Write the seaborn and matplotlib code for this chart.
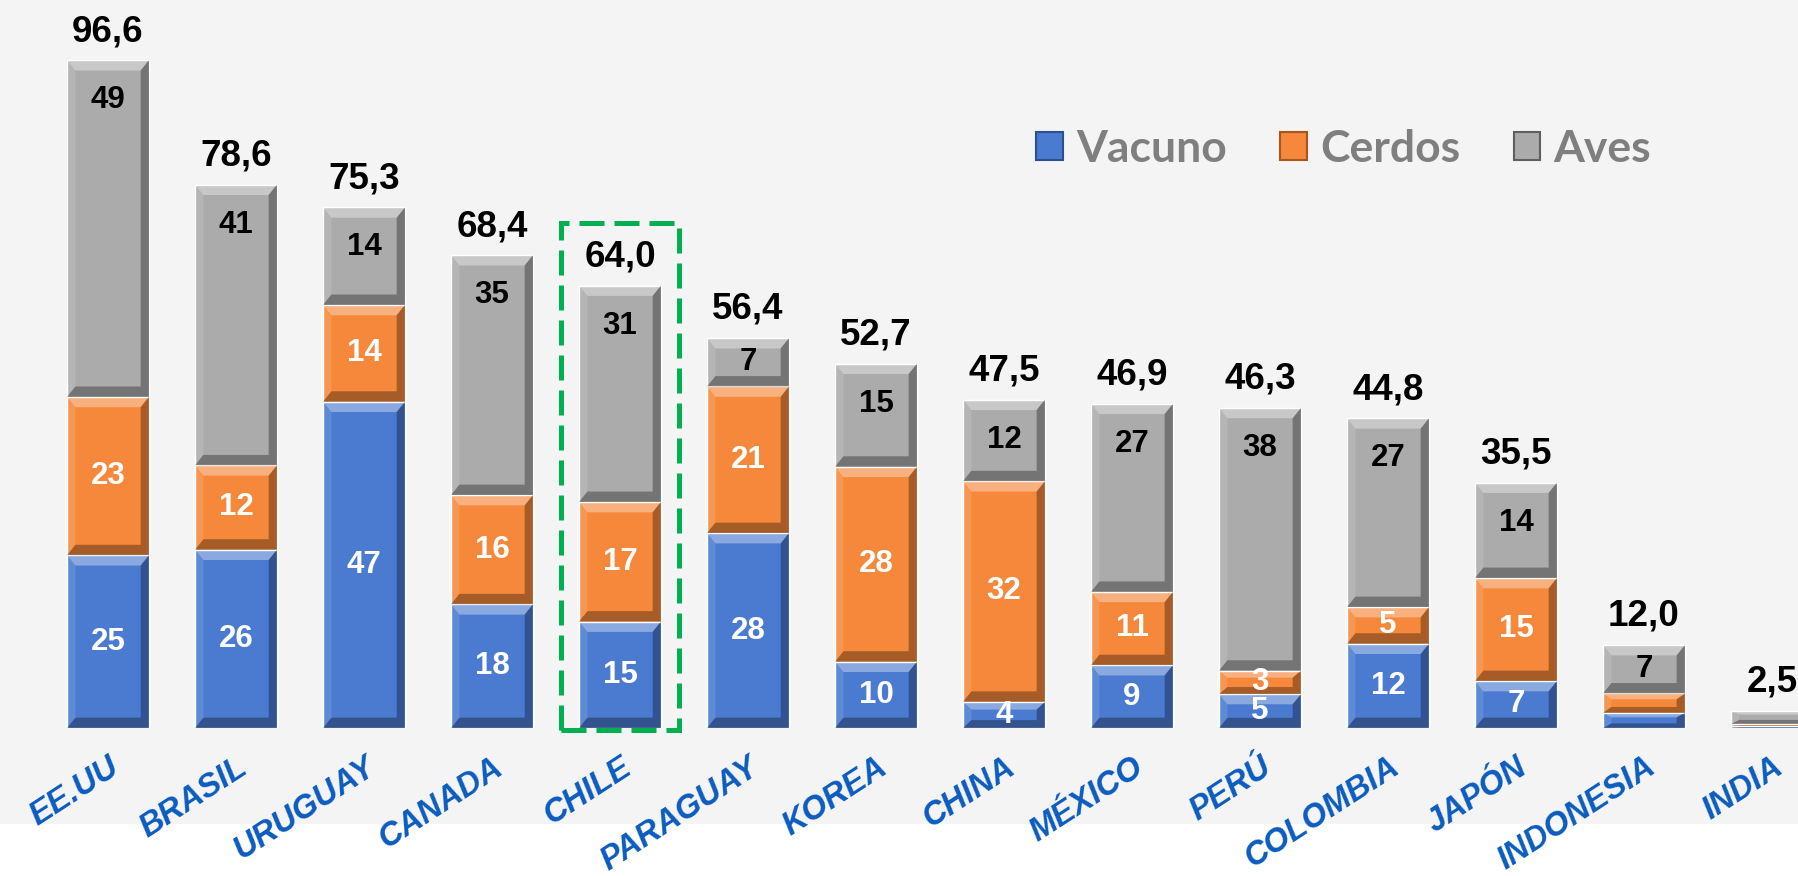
import matplotlib
matplotlib.use("Agg")
import matplotlib.pyplot as plt
import seaborn as sns
import pandas as pd
from matplotlib.patches import Polygon, Rectangle, Patch

# data (labels are rounded)
countries = ["EE.UU", "BRASIL", "URUGUAY", "CANADA", "CHILE", "PARAGUAY", "KOREA",
             "CHINA", "MÉXICO", "PERÚ", "COLOMBIA", "JAPÓN", "INDONESIA", "INDIA"]
vacuno = [25.0, 25.8, 47.2, 17.9, 15.4, 28.2, 9.6, 3.8, 9.1, 4.9, 12.2, 6.8, 2.2, 0.3]
cerdos = [22.9, 12.2, 14.0, 15.8, 17.3, 21.2, 28.2, 31.9, 10.6, 3.4, 5.3, 14.9, 2.8, 0.3]
aves = [48.7, 40.6, 14.1, 34.7, 31.3, 7.0, 14.9, 11.8, 27.2, 38.0, 27.3, 13.8, 7.0, 1.9]
totals = [96.6, 78.6, 75.3, 68.4, 64.0, 56.4, 52.7, 47.5, 46.9, 46.3, 44.8, 35.5, 12.0, 2.5]
series = ["Vacuno", "Cerdos", "Aves"]
highlight = "CHILE"

BLUE = "#4a7bd0"
ORANGE = "#f5883a"
GRAY = "#ababab"
TICK_BLUE = "#0b5cbf"
BG = "#f4f4f4"

df = pd.DataFrame({"pais": countries, "vacuno": vacuno, "cerdos": cerdos, "aves": aves})
df["cum_cer"] = df["vacuno"] + df["cerdos"]
df["total"] = df["cum_cer"] + df["aves"]

sns.set_style("white")
plt.rcParams["font.family"] = ["Liberation Sans", "DejaVu Sans"]

fig = plt.figure(figsize=(17.99, 8.76), dpi=100, facecolor="white")
fig.patches.append(Rectangle((0, 52 / 876), 1, 1, transform=fig.transFigure,
                             facecolor=BG, edgecolor="none", zorder=-10))
ax = fig.add_axes([0, 148 / 876, 1, 728 / 876])
ax.set_facecolor("none")

W = 0.64
# stacked bars drawn as overlapping cumulative bars
sns.barplot(data=df, x="pais", y="total", color=GRAY, width=W, saturation=1, ax=ax)
sns.barplot(data=df, x="pais", y="cum_cer", color=ORANGE, width=W, saturation=1, ax=ax)
sns.barplot(data=df, x="pais", y="vacuno", color=BLUE, width=W, saturation=1, ax=ax)

ax.set_xlim(-0.844, 13.211)
ax.set_ylim(0, 105.3)


def bevel(x0, w, y0, y1):
    h = y1 - y0
    bx = 0.065
    by = min(1.5, h * 0.3)
    top = [(x0, y1), (x0 + w, y1), (x0 + w - bx, y1 - by), (x0 + bx, y1 - by)]
    bot = [(x0, y0), (x0 + w, y0), (x0 + w - bx, y0 + by), (x0 + bx, y0 + by)]
    left = [(x0, y0), (x0 + bx, y0 + by), (x0 + bx, y1 - by), (x0, y1)]
    right = [(x0 + w, y0), (x0 + w - bx, y0 + by), (x0 + w - bx, y1 - by), (x0 + w, y1)]
    ax.add_patch(Polygon(top, closed=True, facecolor="white", alpha=0.35, lw=0, zorder=3))
    ax.add_patch(Polygon(bot, closed=True, facecolor="black", alpha=0.32, lw=0, zorder=3))
    ax.add_patch(Polygon(left, closed=True, facecolor="white", alpha=0.12, lw=0, zorder=3))
    ax.add_patch(Polygon(right, closed=True, facecolor="black", alpha=0.32, lw=0, zorder=3))


bars = ax.patches[:len(countries)]
px_per_unit = 6.915
for i, p in enumerate(bars):
    x0, w = p.get_x(), p.get_width()
    xc = x0 + w / 2
    b0 = 0
    b1 = vacuno[i]
    b2 = b1 + cerdos[i]
    b3 = b2 + aves[i]
    for lo, hi in [(b0, b1), (b1, b2), (b2, b3)]:
        bevel(x0, w, lo, hi)
    # segment labels
    if vacuno[i] >= 3:
        ax.text(xc, (b0 + b1) / 2, f"{round(vacuno[i])}", ha="center", va="center",
                color="white", fontsize=22.5, fontweight="bold", zorder=5)
    if cerdos[i] >= 3:
        ax.text(xc, (b1 + b2) / 2, f"{round(cerdos[i])}", ha="center", va="center",
                color="white", fontsize=22.5, fontweight="bold", zorder=5)
    if aves[i] >= 3:
        off = min(40 / px_per_unit, aves[i] / 2)
        ax.text(xc, b3 - off, f"{round(aves[i])}", ha="center", va="center",
                color="black", fontsize=22.5, fontweight="bold", zorder=5)
    ax.annotate(f"{totals[i]:.1f}".replace(".", ","), (xc, b3), xytext=(0, 8),
                textcoords="offset points", ha="center", va="bottom",
                fontsize=26.5, fontweight="bold", color="black", zorder=5)

# dashed highlight box around CHILE
hi_idx = countries.index(highlight)
hp = bars[hi_idx]
hx = hp.get_x() + hp.get_width() / 2
ax.add_patch(Rectangle((hx - 0.46, -0.3), 0.92, 73.3, fill=False, edgecolor="#00b050",
                       lw=3.6, linestyle=(0, (5, 2)), zorder=6, clip_on=False))

ax.set_xticks(range(len(countries)))
ax.set_xticklabels(countries, rotation=33, ha="right", va="top", rotation_mode="anchor",
                   fontsize=23.5, fontweight="bold", fontstyle="italic", color=TICK_BLUE)
ax.tick_params(axis="x", length=0, pad=17)
ax.set_yticks([])
ax.set_xlabel("")
ax.set_ylabel("")
sns.despine(ax=ax, left=True, bottom=True)

handles = [Patch(facecolor=c, edgecolor=e, linewidth=1.5)
           for c, e in [(BLUE, "#2c4f8f"), (ORANGE, "#a8561c"), (GRAY, "#5f5f5f")]]
fig.legend(handles, series, loc="center left", bbox_to_anchor=(1036 / 1799, 1 - 149 / 876),
           ncol=3, frameon=False, handlelength=0.6, handleheight=0.6, handletextpad=0.3,
           columnspacing=1.2, borderpad=0, borderaxespad=0, labelcolor="#7f7f7f",
           prop={"family": "Lato", "weight": "bold", "size": 32})

fig.savefig("out.png", dpi=100, facecolor=fig.get_facecolor())
